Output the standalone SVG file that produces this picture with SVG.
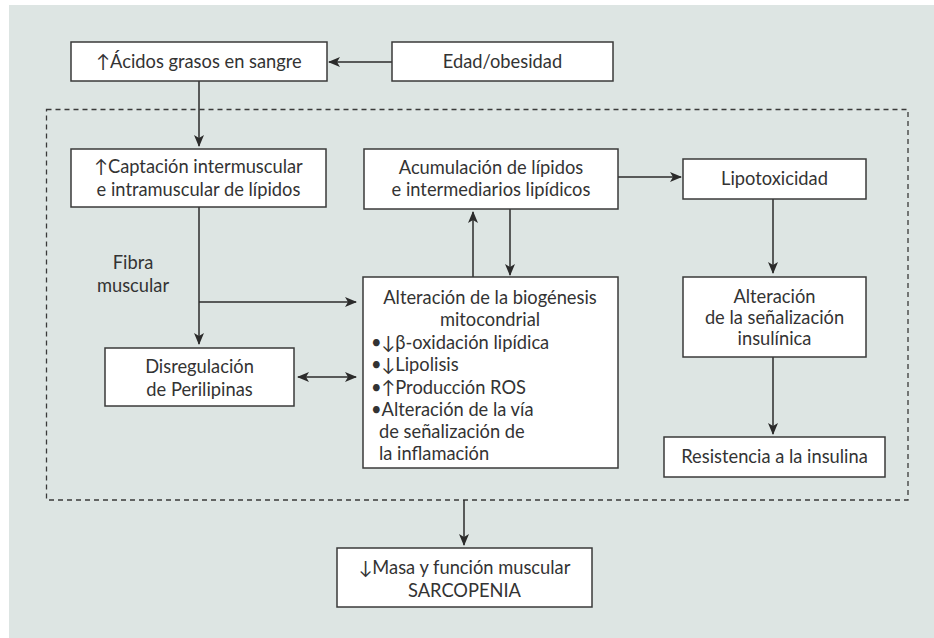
<svg xmlns="http://www.w3.org/2000/svg" width="934" height="638" viewBox="0 0 934 638">
  <defs>
    <marker id="arrow" viewBox="0 0 12 10" refX="11" refY="5" markerWidth="12" markerHeight="10" markerUnits="userSpaceOnUse" orient="auto-start-reverse">
      <path d="M0,0 L12,5 L0,10 L3,5 Z" fill="#2b2b2b"/>
    </marker>
    <style>
      .box { fill: #ffffff; stroke: #3a3a3a; stroke-width: 1.5; }
      .wire { fill: none; stroke: #2b2b2b; stroke-width: 1.5; }
      .frame { fill: none; stroke: #3a3a3a; stroke-width: 1.3; stroke-dasharray: 5 4; }
      text { font-family: "Lato", "DejaVu Sans", sans-serif; font-size: 18.3px; fill: #333333; }
      .c { text-anchor: middle; }
    </style>
  </defs>

  <!-- panel background -->
  <rect x="9" y="5" width="925" height="633" fill="#dde5e3"/>

  <!-- dashed muscle-fibre boundary -->
  <rect class="frame" x="46.5" y="109.5" width="861.5" height="390.5"/>

  <g id="connectors">
    <line class="wire" x1="392" y1="62" x2="329" y2="62" marker-end="url(#arrow)"/>
    <line class="wire" x1="199" y1="81" x2="199" y2="146" marker-end="url(#arrow)"/>
    <line class="wire" x1="199" y1="207" x2="199" y2="344" marker-end="url(#arrow)"/>
    <line class="wire" x1="199" y1="302" x2="356" y2="302" marker-end="url(#arrow)"/>
    <line class="wire" x1="298" y1="377" x2="356" y2="377" marker-start="url(#arrow)" marker-end="url(#arrow)"/>
    <line class="wire" x1="618" y1="177" x2="681" y2="177" marker-end="url(#arrow)"/>
    <line class="wire" x1="473" y1="277" x2="473" y2="212" marker-end="url(#arrow)"/>
    <line class="wire" x1="510" y1="209" x2="510" y2="275" marker-end="url(#arrow)"/>
    <line class="wire" x1="773" y1="199" x2="773" y2="273" marker-end="url(#arrow)"/>
    <line class="wire" x1="773" y1="357" x2="773" y2="434" marker-end="url(#arrow)"/>
    <line class="wire" x1="464" y1="500" x2="464" y2="545" marker-end="url(#arrow)"/>
  </g>

  <g id="acidos-grasos">
    <rect class="box" x="71" y="42" width="256" height="39"/>
    <text class="c" x="199" y="68">↑Ácidos grasos en sangre</text>
  </g>

  <g id="edad-obesidad">
    <rect class="box" x="392" y="42" width="221" height="39"/>
    <text class="c" x="502.5" y="68">Edad/obesidad</text>
  </g>

  <g id="captacion">
    <rect class="box" x="71" y="149" width="255" height="58"/>
    <text class="c" x="198.5" y="173">↑Captación intermuscular</text>
    <text class="c" x="198.5" y="196">e intramuscular de lípidos</text>
  </g>

  <g id="fibra-muscular">
    <text class="c" x="133" y="269">Fibra</text>
    <text class="c" x="133" y="292">muscular</text>
  </g>

  <g id="perilipinas">
    <rect class="box" x="105" y="348" width="189" height="58"/>
    <text class="c" x="199.5" y="373">Disregulación</text>
    <text class="c" x="199.5" y="396">de Perilipinas</text>
  </g>

  <g id="acumulacion">
    <rect class="box" x="364" y="149" width="254" height="60"/>
    <text class="c" x="491" y="174">Acumulación de lípidos</text>
    <text class="c" x="491" y="196">e intermediarios lipídicos</text>
  </g>

  <g id="mitocondrial">
    <rect class="box" x="363" y="277" width="255" height="191"/>
    <text class="c" x="490" y="304">Alteración de la biogénesis</text>
    <text class="c" x="490" y="326">mitocondrial</text>
    <text x="371" y="349">•↓β-oxidación lipídica</text>
    <text x="371" y="371">•↓Lipolisis</text>
    <text x="371" y="394">•↑Producción ROS</text>
    <text x="371" y="416">•Alteración de la vía</text>
    <text x="379" y="438">de señalización de</text>
    <text x="379" y="460">la inflamación</text>
  </g>

  <g id="lipotoxicidad">
    <rect class="box" x="683" y="159" width="183" height="40"/>
    <text class="c" x="774.5" y="185">Lipotoxicidad</text>
  </g>

  <g id="senalizacion-insulinica">
    <rect class="box" x="683" y="277" width="183" height="80"/>
    <text class="c" x="774.5" y="303">Alteración</text>
    <text class="c" x="774.5" y="324">de la señalización</text>
    <text class="c" x="774.5" y="345">insulínica</text>
  </g>

  <g id="resistencia-insulina">
    <rect class="box" x="664" y="437" width="221" height="40"/>
    <text class="c" x="774.5" y="463">Resistencia a la insulina</text>
  </g>

  <g id="sarcopenia">
    <rect class="box" x="337" y="548" width="255" height="59"/>
    <text class="c" x="464.5" y="574">↓Masa y función muscular</text>
    <text class="c" x="464.5" y="597">SARCOPENIA</text>
  </g>
</svg>
